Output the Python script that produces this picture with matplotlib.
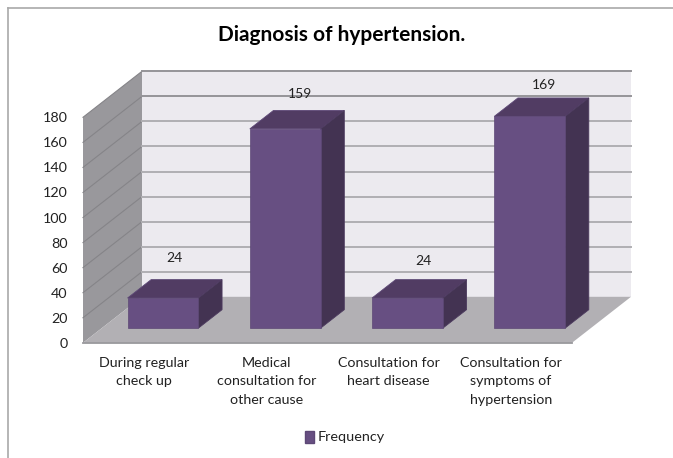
import matplotlib
matplotlib.use("Agg")
import matplotlib.pyplot as plt
from matplotlib.patches import Patch

categories = ["During regular\ncheck up", "Medical\nconsultation for\nother cause",
              "Consultation for\nheart disease", "Consultation for\nsymptoms of\nhypertension"]
frequency = [24, 159, 24, 169]
y_ticks = [0, 20, 40, 60, 80, 100, 120, 140, 160, 180]
series_name = "Frequency"
title = "Diagnosis of hypertension."

W, H = 673, 458
plt.rcParams["font.family"] = ["Lato", "DejaVu Sans"]

# front plane of the fake 3d box, in pixels
left, right, bottom, top = 83, 572, 342.8, 117.3
# how far the back wall is shifted from the front plane
depth_x = 59 / ((right - left) / 4)
depth_y = 46 / ((bottom - top) / 180)


def project(x, v, d):
    """Oblique projection: d = 0 is the front plane, d = 1 the back wall."""
    return x + d * depth_x, v + d * depth_y


fig = plt.figure(figsize=(W / 100, H / 100), dpi=100)
ax = fig.add_axes([left / W, 1 - bottom / H, (right - left) / W, (bottom - top) / H])
ax.set_xlim(-0.5, 3.5)
ax.set_ylim(0, 180)
for s in ax.spines.values():
    s.set_visible(False)
ax.patch.set_alpha(0)


def face(points, color, z, edge="none"):
    xs, ys = zip(*[project(*p) for p in points])
    ax.fill(xs, ys, facecolor=color, edgecolor=edge, lw=0.6, zorder=z, clip_on=False)


x0, x1 = -0.5, 3.5
face([(x0, 0, 1), (x1, 0, 1), (x1, 180, 1), (x0, 180, 1)], "#ECEAEF", 1)
face([(x0, 0, 0), (x0, 0, 1), (x0, 180, 1), (x0, 180, 0)], "#99989C", 1)
face([(x0, 0, 0), (x1, 0, 0), (x1, 0, 1), (x0, 0, 1)], "#B2B0B4", 2)

# gridlines run along the left wall and the back wall
for v in y_ticks[1:]:
    xs, ys = zip(project(x0, v, 0), project(x0, v, 1))
    ax.plot(xs, ys, color="#858488", lw=0.8, zorder=1.5, clip_on=False)
    xs, ys = zip(project(x0, v, 1), project(x1, v, 1))
    ax.plot(xs, ys, color="#B0AFB3" if v < 160 else "#959498", lw=1.4, zorder=1.5,
            clip_on=False)
xs, ys = zip(project(x0, 0, 0), project(x1, 0, 0))
ax.plot(xs, ys, color="#99989C", lw=1.3, zorder=2.5, clip_on=False)

# bars stand inside the box
d_front, d_back = 0.32, 0.72
half = 0.29
label_dx = [30, 34, 35, 33]
label_dy = [40, 35, 37, 31]
for i, val in enumerate(frequency):
    px, pv = project(i, 0, d_front)
    z = 3 + i
    ax.bar(px, val, width=2 * half, bottom=pv, color="#674F82", edgecolor="#5D4876",
           lw=0.5, zorder=z + 0.2, clip_on=False)
    face([(i - half, val, d_front), (i + half, val, d_front),
          (i + half, val, d_back), (i - half, val, d_back)], "#513C63", z, "#5D4876")
    face([(i + half, 0, d_front), (i + half, 0, d_back),
          (i + half, val, d_back), (i + half, val, d_front)], "#433352", z, "#4C3A5E")
    ax.annotate(str(val), xy=(i, pv + val), xytext=(label_dx[i] * 0.72, label_dy[i] * 0.72),
                textcoords="offset points", ha="center", va="center", fontsize=10,
                color="#222222", zorder=10, annotation_clip=False)

ax.set_xticks(range(len(categories)))
ax.set_xticklabels(categories, fontsize=10.3, color="#222222", linespacing=1.66)
ax.set_yticks(y_ticks)
ax.tick_params(axis="y", length=0, pad=11, labelsize=10.3, labelcolor="#222222")
ax.tick_params(axis="x", length=0, pad=10)

fig.text(342 / W, 1 - 35 / H, title, ha="center", va="center", fontsize=15,
         fontweight="bold", color="black")

handle = Patch(facecolor="#674F82", edgecolor="#5D4876", label=series_name)
fig.legend(handles=[handle], loc="center", bbox_to_anchor=(345 / W, 1 - 437 / H), frameon=False,
           fontsize=10.4, handlelength=0.65, handleheight=0.9, handletextpad=0.25,
           labelcolor="#222222")

# outer frame, only top and left survive in the crop
fig.add_artist(plt.Line2D([8 / W, 8 / W], [0, 1 - 8 / H], color="#A9A9A9", lw=1.2))
fig.add_artist(plt.Line2D([8 / W, 1], [1 - 8 / H, 1 - 8 / H], color="#A9A9A9", lw=1.2))

fig.savefig("out.png", dpi=100)
